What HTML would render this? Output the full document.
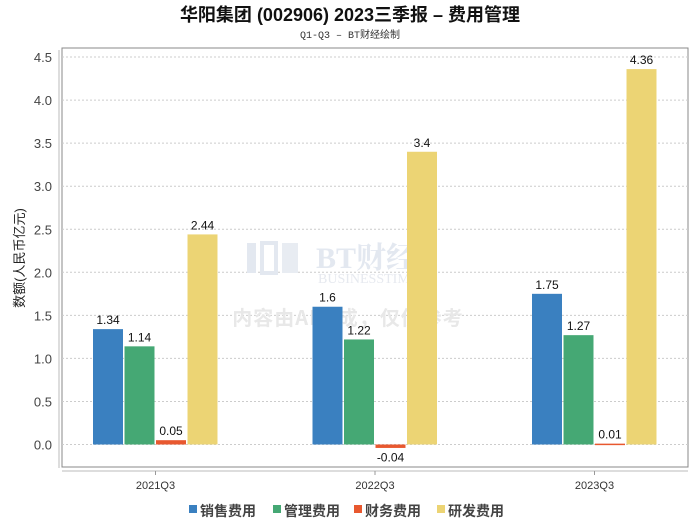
<!DOCTYPE html>
<html><head><meta charset="utf-8"><style>
body{margin:0;background:#fff;font-family:"Liberation Sans","Noto Sans CJK SC",sans-serif}
</style></head><body>
<svg width="700" height="524" viewBox="0 0 700 524" xmlns="http://www.w3.org/2000/svg">
<text x="350" y="21" text-anchor="middle" font-size="18" font-weight="bold" fill="#111" font-family="Liberation Sans,Noto Sans CJK SC,sans-serif">华阳集团 (002906) 2023三季报 – 费用管理</text>
<text x="350" y="38" text-anchor="middle" font-size="10" fill="#333" font-family="Liberation Mono,Noto Sans CJK SC,monospace">Q1-Q3 – BT财经绘制</text>
<rect x="62" y="48" width="626" height="419" fill="#fff" stroke="#888" stroke-width="1"/>
<line x1="59" y1="50" x2="59" y2="468" stroke="#bbb"/>
<line x1="62" y1="471" x2="688" y2="471" stroke="#bbb"/>
<g id="grid"></g>
<g>
<rect x="247" y="243" width="9" height="30" fill="#e3e8f0"/>
<rect x="262" y="243" width="14" height="30" fill="none" stroke="#e3e8f0" stroke-width="4"/>
<rect x="282" y="243" width="16" height="30" fill="#e8ecf2"/>
</g>
<text x="316" y="268" font-size="30" font-weight="bold" fill="#e3e8f0" font-family="Liberation Serif,Noto Serif CJK SC,serif">BT财经</text>
<text x="318" y="283" font-size="14" fill="#e6e9ef" font-family="Liberation Serif,serif">BUSINESSTIMES</text>
<text x="348" y="325" text-anchor="middle" font-size="20" font-weight="bold" fill="#e8e8e8" letter-spacing="1" font-family="Noto Sans CJK SC,sans-serif">内容由AI生成，仅供参考</text>
<g id="bars"></g>
<text transform="translate(24,258) rotate(-90)" text-anchor="middle" font-size="13" fill="#222" font-family="Liberation Sans,Noto Sans CJK SC,sans-serif">数额(人民币亿元)</text>
<g id="legend"></g>
</svg>
<script>
const categories=["2021Q3","2022Q3","2023Q3"];
const seriesNames=["销售费用","管理费用","财务费用","研发费用"];
const colors=["#3a80c0","#45a874","#e8582f","#ecd474"];
const sales=[1.34,1.6,1.75];
const admin=[1.14,1.22,1.27];
const finance=[0.05,-0.04,0.01];
const rnd=[2.44,3.4,4.36];
const yTicks=["0.0","0.5","1.0","1.5","2.0","2.5","3.0","3.5","4.0","4.5"];
const NS="http://www.w3.org/2000/svg";
const y=v=>444.5-v*86.1;
const xc=i=>155.5+i*219.5;
function mk(t,a,p){const e=document.createElementNS(NS,t);for(const k in a)e.setAttribute(k,a[k]);p.appendChild(e);return e;}
const grid=document.getElementById('grid');
yTicks.forEach(t=>{const v=parseFloat(t);
const l=mk('line',{x1:62,x2:688,y1:y(v),y2:y(v),stroke:'#ccc','stroke-dasharray':'2,2'},grid);


const tx=mk('text',{x:52,y:y(v)+5,'text-anchor':'end','font-size':13,fill:'#444'},grid);tx.textContent=t;

});
categories.forEach((c,i)=>{
const tk=mk('line',{x1:xc(i),x2:xc(i),y1:471,y2:475,stroke:'#999'},grid);


const t=mk('text',{x:xc(i),y:489,'text-anchor':'middle','font-size':11,fill:'#333'},grid);t.textContent=c;

});
const bars=document.getElementById('bars');
const all=[sales,admin,finance,rnd];
all.forEach((s,j)=>s.forEach((v,i)=>{
const x=xc(i)-62.5+j*31.5;const y0=y(0),y1=y(v);
const r=mk('rect',{x:x,y:Math.min(y0,y1),width:30,height:Math.max(Math.abs(y1-y0),1.5),fill:colors[j]},bars);


const t=mk('text',{x:x+15,y:v>=0?y1-5:y0+17,'text-anchor':'middle','font-size':12,fill:'#111'},bars);t.textContent=String(v);

}));
const lg=document.getElementById('legend');
const lx=[189,273,354,437];
seriesNames.forEach((n,j)=>{
const r=mk('rect',{x:lx[j],y:505,width:8,height:8,fill:colors[j]},lg);


const t=mk('text',{x:lx[j]+11,y:516,'font-size':14,'font-weight':'bold',fill:'#444'},lg);t.textContent=n;

});
</script>
</body></html>
